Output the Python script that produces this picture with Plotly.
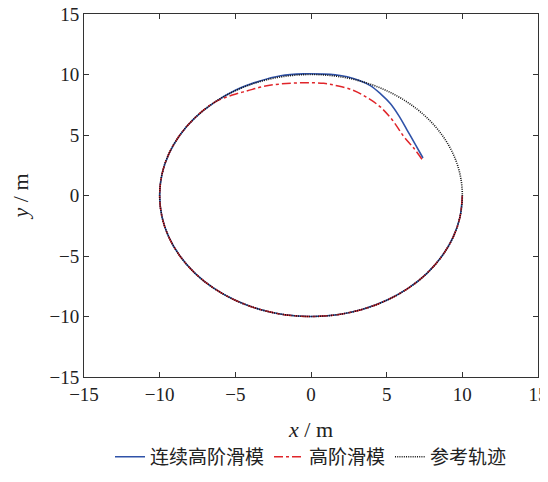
import plotly.graph_objects as go

# --- data ---
x_ref = [10.0, 9.85, 9.40, 8.66, 7.66, 6.43, 5.0, 3.42, 1.74, 0.0, -1.74, -3.42, -5.0, -6.43,
         -7.66, -8.66, -9.40, -9.85, -10.0, -9.85, -9.40, -8.66, -7.66, -6.43, -5.0, -3.42,
         -1.74, 0.0, 1.74, 3.42, 5.0, 6.43, 7.66, 8.66, 9.40, 9.85, 10.0]
y_ref = [0.0, 1.74, 3.42, 5.0, 6.43, 7.66, 8.66, 9.40, 9.85, 10.0, 9.85, 9.40, 8.66, 7.66,
         6.43, 5.0, 3.42, 1.74, 0.0, -1.74, -3.42, -5.0, -6.43, -7.66, -8.66, -9.40,
         -9.85, -10.0, -9.85, -9.40, -8.66, -7.66, -6.43, -5.0, -3.42, -1.74, 0.0]

x_chosm = [7.4, 6.9, 6.34, 5.8, 5.24, 4.6, 3.92, 3.2, 2.39, 1.6, 0.84, -0.5, -2.0, -3.42,
           -5.0, -6.43, -7.66, -8.66, -9.40, -9.85, -10.0, -9.85, -9.40, -8.66, -7.66, -6.43,
           -5.0, -3.42, -1.74, 0.0, 1.74, 3.42, 5.0, 6.43, 7.66, 8.66, 9.40, 9.85, 10.0]
y_chosm = [3.1, 4.2, 5.43, 6.6, 7.6, 8.4, 9.08, 9.5, 9.81, 9.97, 10.03, 10.05, 9.9, 9.45,
           8.7, 7.66, 6.43, 5.0, 3.42, 1.74, 0.0, -1.74, -3.42, -5.0, -6.43, -7.66,
           -8.66, -9.40, -9.85, -10.0, -9.85, -9.40, -8.66, -7.66, -6.43, -5.0, -3.42, -1.74, 0.0]

x_hosm = [7.33, 6.8, 6.12, 5.4, 4.58, 3.7, 2.82, 1.8, 0.84, -0.5, -2.0, -3.2, -4.2, -5.2,
          -6.43, -7.66, -8.66, -9.40, -9.85, -10.0, -9.85, -9.40, -8.66, -7.66, -6.43,
          -5.0, -3.42, -1.74, 0.0, 1.74, 3.42, 5.0, 6.43, 7.66, 8.66, 9.40, 9.85, 10.0]
y_hosm = [3.0, 3.9, 4.89, 6.2, 7.32, 8.1, 8.68, 9.05, 9.27, 9.32, 9.22, 9.0, 8.65, 8.3,
          7.66, 6.43, 5.0, 3.42, 1.74, 0.0, -1.74, -3.42, -5.0, -6.43, -7.66,
          -8.66, -9.40, -9.85, -10.0, -9.85, -9.40, -8.66, -7.66, -6.43, -5.0, -3.42, -1.74, 0.0]

ticks = [-15, -10, -5, 0, 5, 10, 15]

fig = go.Figure()
fig.add_trace(go.Scatter(x=x_chosm, y=y_chosm, mode='lines', name='连续高阶滑模',
                         line=dict(color='#2F52A8', width=1.6, shape='spline')))
fig.add_trace(go.Scatter(x=x_hosm, y=y_hosm, mode='lines', name='高阶滑模',
                         line=dict(color='#E0252A', width=1.5, dash='dashdot', shape='spline')))
fig.add_trace(go.Scatter(x=x_ref, y=y_ref, mode='lines', name='参考轨迹',
                         line=dict(color='#111111', width=1.6, dash='1px,1.2px', shape='spline')))

axis_style = dict(range=[-15, 15], tickvals=ticks, ticks='inside', ticklen=5,
                  tickcolor='#333', showline=True, linecolor='#333', linewidth=1,
                  mirror='ticks', showgrid=False, zeroline=False, automargin=False,
                  ticklabeloverflow='allow',
                  tickfont=dict(family='Liberation Serif', size=19, color='#222'))

fig.update_xaxes(**axis_style, title=dict(text='<i>x</i> / m', standoff=17,
                 font=dict(family='Liberation Serif', size=22, color='#222')))
fig.update_yaxes(**axis_style, title=dict(text='<i>y</i> / m', standoff=20,
                 font=dict(family='Liberation Serif', size=22, color='#222')))

# page body adds an 8px offset, so the figure is sized to fit inside the window
fig.update_layout(
    width=540, height=474,
    margin=dict(l=76, r=10, t=6, b=93),
    plot_bgcolor='white', paper_bgcolor='white',
    font=dict(family='Liberation Serif, Noto Sans CJK SC', size=19, color='#222'),
    legend=dict(orientation='h', x=0.5, xanchor='center', y=-0.22, yanchor='middle',
                font=dict(size=19), tracegroupgap=0),
)

fig.write_html("out.html")
